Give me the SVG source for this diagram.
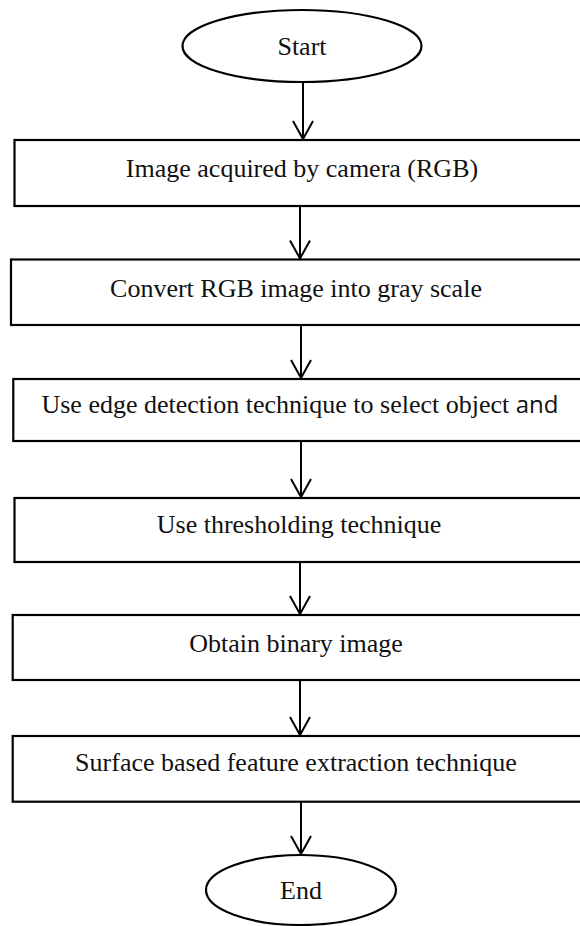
<svg xmlns="http://www.w3.org/2000/svg" width="580" height="926" viewBox="0 0 580 926">
<style>
.box{fill:#fff;stroke:#000;stroke-width:2.2}
.t{font-family:"Liberation Serif","Times New Roman",serif;font-size:26px;fill:#111;text-anchor:middle}
.s{font-family:"Open Sans","Liberation Sans",sans-serif;font-size:24px}
.c{fill:none;stroke:#000;stroke-width:2}
</style>
<defs>
<marker id="arr" viewBox="0 0 24 22" markerWidth="24" markerHeight="22" refX="22" refY="11" orient="auto" markerUnits="userSpaceOnUse">
<path d="M4,1 L22,11 L4,21" fill="none" stroke="#000" stroke-width="2"/>
</marker>
</defs>
<g id="start"><ellipse class="box" cx="302" cy="46" rx="119.5" ry="36"/><text class="t" x="302" y="55">Start</text></g>
<g id="n1"><rect class="box" x="14.5" y="140" width="580" height="66"/><text class="t" x="302" y="177">Image acquired by camera (RGB)</text></g>
<g id="n2"><rect class="box" x="11" y="259.5" width="580" height="65.5"/><text class="t" x="296" y="297">Convert RGB image into gray scale</text></g>
<g id="n3"><rect class="box" x="13.3" y="379" width="580" height="62"/><text class="t" x="300" y="413">Use edge detection technique to select object <tspan class="s">and</tspan></text></g>
<g id="n4"><rect class="box" x="14.5" y="498" width="580" height="64"/><text class="t" x="299" y="533">Use thresholding technique</text></g>
<g id="n5"><rect class="box" x="12.7" y="615" width="580" height="65"/><text class="t" x="296" y="652">Obtain binary image</text></g>
<g id="n6"><rect class="box" x="12.7" y="736" width="580" height="65.7"/><text class="t" x="296" y="771">Surface based feature extraction technique</text></g>
<g id="end"><ellipse class="box" cx="301" cy="890" rx="95" ry="35"/><text class="t" x="301" y="899">End</text></g>
<g id="connectors">
<line class="c" x1="303" y1="82" x2="303" y2="139" marker-end="url(#arr)"/>
<line class="c" x1="300" y1="206" x2="300" y2="258.5" marker-end="url(#arr)"/>
<line class="c" x1="301" y1="325" x2="301" y2="378" marker-end="url(#arr)"/>
<line class="c" x1="301" y1="441" x2="301" y2="497" marker-end="url(#arr)"/>
<line class="c" x1="300" y1="562" x2="300" y2="614" marker-end="url(#arr)"/>
<line class="c" x1="300" y1="680" x2="300" y2="735" marker-end="url(#arr)"/>
<line class="c" x1="301" y1="802" x2="301" y2="854" marker-end="url(#arr)"/>
</g>
</svg>
